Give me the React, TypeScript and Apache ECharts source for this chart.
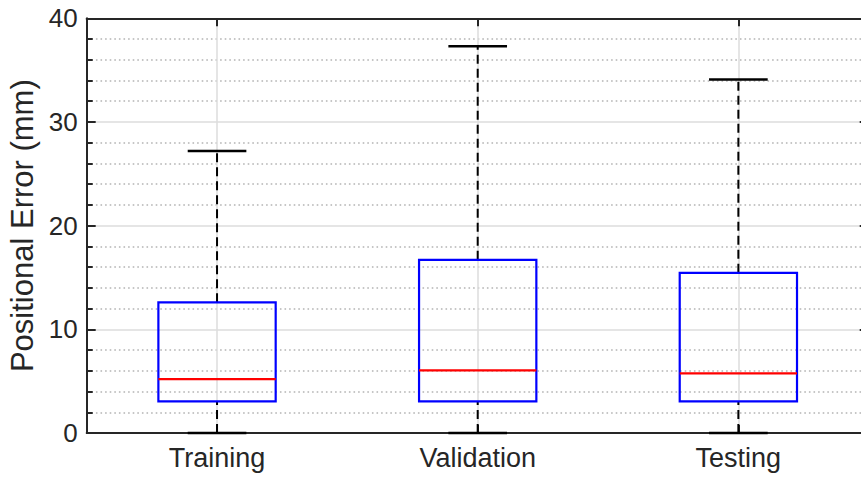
import React, { useEffect, useRef } from "react";
import * as echarts from "echarts";

const categories = ["Training", "Validation", "Testing"];
// [lower whisker, Q1, median, Q3, upper whisker]
const trainingStats = [0, 3.05, 5.2, 12.6, 27.2];
const validationStats = [0, 3.05, 6.05, 16.7, 37.3];
const testingStats = [0, 3.05, 5.75, 15.45, 34.1];
const yTicks = [0, 10, 20, 30, 40];

const boxStats = [trainingStats, validationStats, testingStats];

const TEXT = "#262626";
const FONT = "'Liberation Sans', Arial, Helvetica, sans-serif";

export default function App() {
  const ref = useRef<HTMLDivElement>(null);
  useEffect(() => {
    if (!ref.current) return;
    const chart = echarts.init(ref.current, undefined, { renderer: "svg" });
    const data = boxStats.map((s, i) => [i, ...s]);
    const option: any = {
      animation: false,
      backgroundColor: "#ffffff",
      grid: { left: 86.7, top: 18.3, width: 782, height: 414.7, containLabel: false, outerBoundsMode: "none" },
      xAxis: [
        {
          type: "category",
          data: categories,
          position: "bottom",
          axisLine: { show: true, onZero: false, lineStyle: { color: TEXT, width: 2 } },
          axisTick: { show: true, inside: true, alignWithLabel: true, length: 8, lineStyle: { color: TEXT, width: 2 } },
          axisLabel: { color: TEXT, fontSize: 27, fontFamily: FONT, margin: 11 },
          splitLine: { show: true, alignWithLabel: true, lineStyle: { color: "#dcdcdc", width: 1.5 } },
        },
        {
          type: "category",
          data: categories,
          position: "top",
          axisLine: { show: true, onZero: false, lineStyle: { color: TEXT, width: 2 } },
          axisTick: { show: true, inside: true, alignWithLabel: true, length: 8, lineStyle: { color: TEXT, width: 2 } },
          axisLabel: { show: false },
          splitLine: { show: false },
        },
      ],
      yAxis: [
        {
          type: "value",
          min: yTicks[0],
          max: yTicks[yTicks.length - 1],
          interval: 10,
          position: "left",
          name: "Positional Error (mm)",
          nameLocation: "middle",
          nameGap: 47,
          nameTextStyle: { color: TEXT, fontSize: 31, fontFamily: FONT },
          axisLine: { show: true, onZero: false, lineStyle: { color: TEXT, width: 2 } },
          axisTick: { show: true, inside: true, length: 9, lineStyle: { color: TEXT, width: 2 } },
          minorTick: { show: true, splitNumber: 5, length: 6, lineStyle: { color: TEXT, width: 2 } },
          axisLabel: { color: TEXT, fontSize: 26, fontFamily: FONT, margin: 9 },
          splitLine: { show: true, lineStyle: { color: "#dcdcdc", width: 1.5 } },
          minorSplitLine: { show: true, lineStyle: { color: "#b4b4b4", width: 1.6, type: [1.6, 3] } },
        },
        {
          type: "value",
          min: yTicks[0],
          max: yTicks[yTicks.length - 1],
          interval: 10,
          position: "right",
          axisLine: { show: true, onZero: false, lineStyle: { color: TEXT, width: 2 } },
          axisTick: { show: true, inside: true, length: 9, lineStyle: { color: TEXT, width: 2 } },
          minorTick: { show: true, splitNumber: 5, length: 6, lineStyle: { color: TEXT, width: 2 } },
          axisLabel: { show: false },
          splitLine: { show: false },
        },
      ],
      series: [
        {
          type: "custom",
          clip: false,
          z: 10,
          encode: { x: 0, y: [1, 2, 3, 4, 5] },
          data,
          renderItem: (params: any, api: any) => {
            const x = api.value(0);
            const lo = api.coord([x, api.value(1)]);
            const q1 = api.coord([x, api.value(2)]);
            const med = api.coord([x, api.value(3)]);
            const q3 = api.coord([x, api.value(4)]);
            const hi = api.coord([x, api.value(5)]);
            const band = api.size([1, 0])[0];
            const halfW = band * 0.225;
            const capW = halfW / 2;
            const cx = lo[0];
            const dashStyle = { stroke: "#000000", lineWidth: 2, lineDash: [9, 5] };
            const solidBlack = { stroke: "#000000", lineWidth: 2.5 };
            return {
              type: "group",
              children: [
                { type: "line", shape: { x1: cx, y1: q3[1], x2: cx, y2: hi[1] }, style: dashStyle },
                { type: "line", shape: { x1: cx, y1: lo[1], x2: cx, y2: q1[1] }, style: dashStyle },
                { type: "line", shape: { x1: cx - capW, y1: hi[1], x2: cx + capW, y2: hi[1] }, style: solidBlack },
                { type: "line", shape: { x1: cx - capW, y1: lo[1], x2: cx + capW, y2: lo[1] }, style: solidBlack },
                {
                  type: "rect",
                  shape: { x: cx - halfW, y: q3[1], width: halfW * 2, height: q1[1] - q3[1] },
                  style: { fill: "none", stroke: "#0000ff", lineWidth: 2.2 },
                },
                { type: "line", shape: { x1: cx - halfW, y1: med[1], x2: cx + halfW, y2: med[1] }, style: { stroke: "#ff0000", lineWidth: 2.2 } },
              ],
            };
          },
        },
      ],
    };
    chart.setOption(option);
    return () => chart.dispose();
  }, []);
  return <div ref={ref} style={{ position: "fixed", left: 0, top: 0, width: 861, height: 478 }} />;
}
